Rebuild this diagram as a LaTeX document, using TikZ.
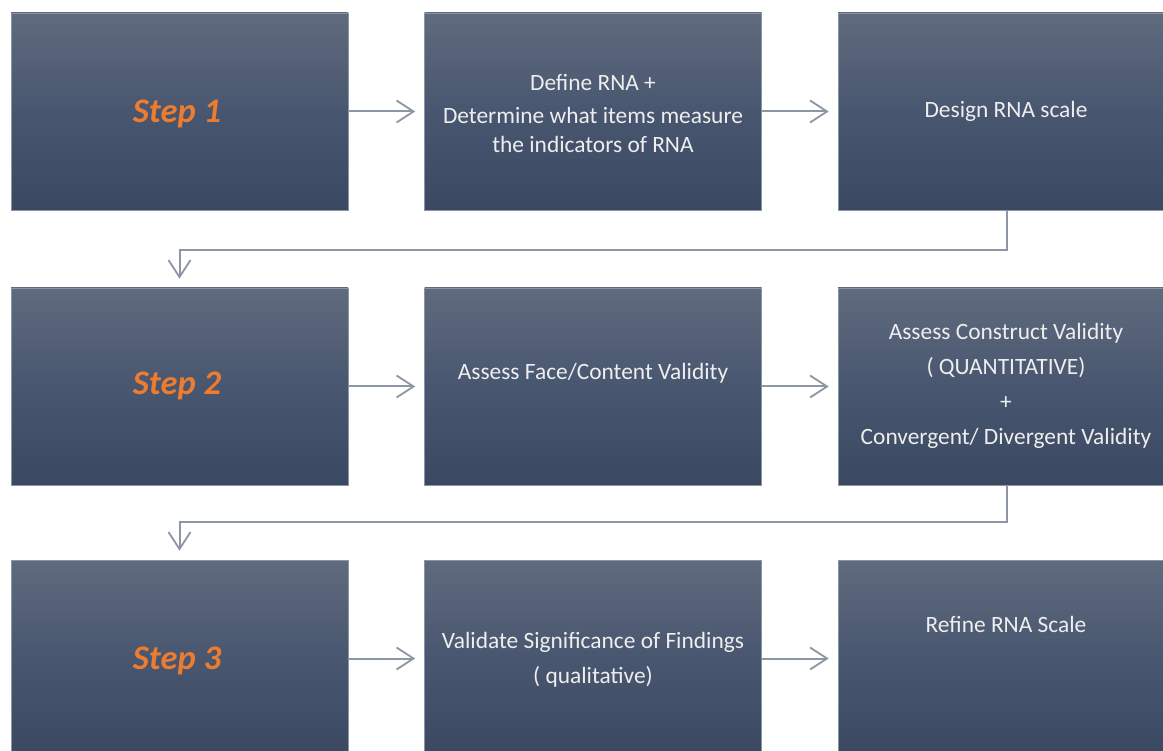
\documentclass[tikz,border=0pt]{standalone}
\usepackage{fontspec}
\setmainfont{Carlito}
\usetikzlibrary{arrows.meta,calc}
\definecolor{boxtop}{HTML}{5F6B7D}
\definecolor{boxmid}{HTML}{485670}
\definecolor{boxbot}{HTML}{3A4862}
\definecolor{boxedge}{HTML}{8A94A3}
\definecolor{linkgray}{HTML}{8C96A5}
\definecolor{steporange}{HTML}{EC7C30}
\definecolor{paletext}{HTML}{EEEEEE}
\tikzset{
  stagebox/.style={rectangle, minimum width=337pt, minimum height=197pt, inner sep=0pt,
    top color=boxtop, bottom color=boxbot, middle color=boxmid, draw=boxedge, line width=0.6pt},
  steplabel/.style={text=steporange, font=\fontsize{34.5}{41}\selectfont\bfseries\itshape},
  boxtext/.style={text=paletext, align=center, inner sep=0pt,
    font=\fontsize{23.4}{28.5}\selectfont},
  link/.style={draw=linkgray, line width=2pt,
    -{Straight Barb[length=17pt,width=22pt,line width=1.8pt]}, shorten >=9pt},
}
\begin{document}
\begin{tikzpicture}[x=1pt,y=-1pt]
\clip (0,0) rectangle (1163,751);
\fill[white] (0,0) rectangle (1163,751);

% stage boxes: three columns, three rows
\node[stagebox] (s1)  at (179.5,111.5) {};
\node[stagebox] (a1)  at (593,111.5) {};
\node[stagebox] (b1)  at (1006.5,111.5) {};
\node[stagebox] (s2)  at (179.5,386.5) {};
\node[stagebox] (a2)  at (593,386.5) {};
\node[stagebox] (b2)  at (1006.5,386.5) {};
\node[stagebox] (s3)  at (179.5,658.5) {};
\node[stagebox] (a3)  at (593,658.5) {};
\node[stagebox] (b3)  at (1006.5,658.5) {};

% box captions
\node[steplabel] (t1) at (177,114) {Step 1};
\node[steplabel] (t2) at (177,386) {Step 2};
\node[steplabel] (t3) at (177,661) {Step 3};

\node[boxtext] (ta1) at (593,113) {Define RNA +\\[5pt]Determine what items measure\\the indicators of RNA};
\node[boxtext] (tb1) at (1006,111) {Design RNA scale};
\node[boxtext] (ta2) at (593,373) {Assess Face/Content Validity};
\node[boxtext] (tb2) at (1006,385.5) {Assess Construct Validity\\[6.5pt]( QUANTITATIVE)\\[6.5pt]+\\[6.5pt]Convergent/ Divergent Validity};
\node[boxtext] (ta3) at (593,659.5) {Validate Significance of Findings\\[6.5pt]( qualitative)};
\node[boxtext] (tb3) at (1006,624) {Refine RNA Scale};

% horizontal links within each row
\draw[link] (s1.east) -- (a1.west);
\draw[link] (a1.east) -- (b1.west);
\draw[link] (s2.east) -- (a2.west);
\draw[link] (a2.east) -- (b2.west);
\draw[link] (s3.east) -- (a3.west);
\draw[link] (a3.east) -- (b3.west);

% elbow links from the end of one row to the start of the next
\coordinate (bend1) at (0,250);
\coordinate (bend2) at (0,522);
\draw[link] (b1.south) |- (bend1 -| s2.north) -- (s2.north);
\draw[link] (b2.south) |- (bend2 -| s3.north) -- (s3.north);
\end{tikzpicture}
\end{document}
